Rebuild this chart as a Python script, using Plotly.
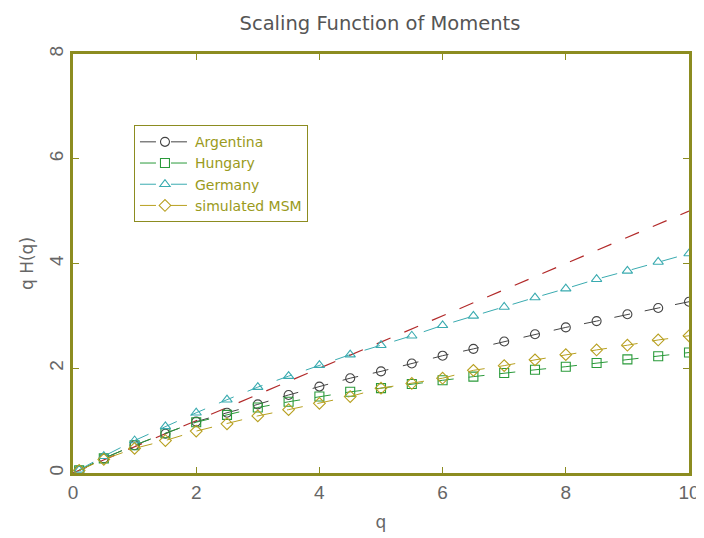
import plotly.graph_objects as go

q = [0.1, 0.5, 1.0, 1.5, 2.0, 2.5, 3.0, 3.5, 4.0, 4.5, 5.0, 5.5, 6.0, 6.5, 7.0, 7.5, 8.0, 8.5, 9.0, 9.5, 10.0]
argentina = [0.05, 0.28, 0.53, 0.75, 0.98, 1.15, 1.31, 1.49, 1.65, 1.81, 1.94, 2.09, 2.24, 2.37, 2.51, 2.65, 2.78, 2.90, 3.03, 3.15, 3.27]
hungary = [0.05, 0.28, 0.53, 0.76, 0.97, 1.11, 1.25, 1.36, 1.46, 1.55, 1.62, 1.70, 1.77, 1.84, 1.91, 1.97, 2.03, 2.10, 2.17, 2.23, 2.30]
germany = [0.06, 0.32, 0.62, 0.89, 1.15, 1.40, 1.64, 1.85, 2.06, 2.26, 2.44, 2.62, 2.82, 3.00, 3.17, 3.35, 3.52, 3.70, 3.86, 4.03, 4.19]
msm = [0.05, 0.26, 0.47, 0.62, 0.80, 0.94, 1.09, 1.21, 1.33, 1.46, 1.62, 1.71, 1.81, 1.96, 2.05, 2.16, 2.26, 2.35, 2.44, 2.54, 2.62]
ref_q = [0.0, 10.0]
ref_h = [0.0, 5.0]

series = [
    ("Argentina", argentina, "#444444", "circle-open"),
    ("Hungary", hungary, "#2a9a3a", "square-open"),
    ("Germany", germany, "#3aabb0", "triangle-up-open"),
    ("simulated MSM", msm, "#b8a020", "diamond-open"),
]

fig = go.Figure()
fig.add_trace(go.Scatter(x=ref_q, y=ref_h, mode="lines", showlegend=False,
                         line=dict(color="#b22a2a", width=1.2, dash="15px,15px")))
for name, vals, col, sym in series:
    fig.add_trace(go.Scatter(x=q, y=vals, mode="lines+markers", name=name,
                             line=dict(color=col, width=1.0, dash="16px,15px"),
                             marker=dict(symbol=sym, size=9, color=col,
                                         line=dict(color=col, width=1.1))))

axcol = "#8c8c20"
font_fam = "DejaVu Sans, Liberation Sans, sans-serif"
W, H = 696, 530
fig.update_layout(
    width=W, height=H,
    margin=dict(l=65, r=15, t=46, b=65, autoexpand=False),
    paper_bgcolor="white", plot_bgcolor="white",
    title=dict(text="Scaling Function of Moments", x=372 / W, xanchor="center",
               y=1 - 15 / H, yanchor="middle",
               font=dict(family=font_fam, size=19.5, color="#555555")),
    font=dict(family=font_fam, color="#666666"),
    legend=dict(x=0.099, y=0.830, xanchor="left", yanchor="top",
                bgcolor="white", bordercolor=axcol, borderwidth=1,
                font=dict(family=font_fam, size=14, color="#9a9a20"),
                tracegroupgap=0, itemwidth=50),
    showlegend=True,
)
fig.update_xaxes(range=[0, 10], tickvals=[0, 2, 4, 6, 8, 10], showgrid=False, zeroline=False,
                 automargin=False,
                 showline=True, linecolor=axcol, linewidth=2.5, mirror="ticks",
                 ticks="inside", ticklen=6, tickcolor=axcol, tickwidth=1,
                 tickfont=dict(family="Liberation Sans, sans-serif", size=19, color="#666666"),
                 title=dict(text="q", font=dict(size=17, color="#666666"), standoff=15))
fig.update_yaxes(range=[0, 8], tickvals=[0, 2, 4, 6, 8], showgrid=False, zeroline=False,
                 automargin=False,
                 showline=True, linecolor=axcol, linewidth=2.5, mirror="ticks",
                 ticks="inside", ticklen=6, tickcolor=axcol, tickwidth=1, tickangle=-90,
                 tickfont=dict(family="Liberation Sans, sans-serif", size=19, color="#666666"),
                 title=dict(text="q H(q)", font=dict(size=17, color="#666666"), standoff=8))

fig.write_html("out.html")
